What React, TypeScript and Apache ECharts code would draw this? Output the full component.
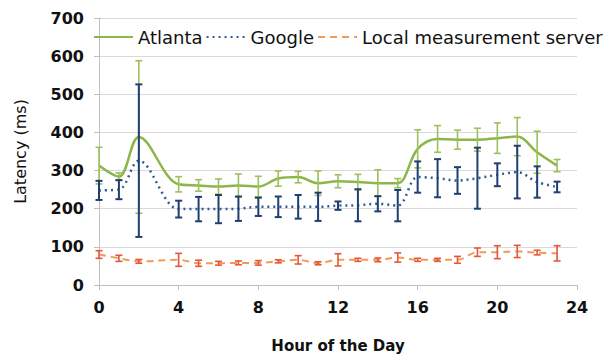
import React, { useEffect, useRef } from "react";
import * as echarts from "echarts";

const hours = [0, 1, 2, 4, 5, 6, 7, 8, 9, 10, 11, 12, 13, 14, 15, 16, 17, 18, 19, 20, 21, 22, 23];
const atlanta = [313, 284, 388, 264, 261, 258, 261, 258, 279, 283, 267, 272, 270, 267, 267, 357, 383, 381, 381, 385, 389, 348, 313];
const atlantaErr = [48, 10, 200, 20, 15, 20, 30, 27, 20, 15, 32, 17, 20, 35, 12, 50, 35, 25, 30, 40, 50, 55, 16];
const google = [248, 250, 326, 199, 199, 199, 200, 205, 205, 205, 205, 208, 209, 213, 208, 283, 280, 274, 280, 289, 296, 270, 257];
const googleErr = [25, 25, 200, 22, 32, 37, 32, 24, 27, 31, 37, 11, 42, 20, 41, 41, 50, 35, 80, 30, 69, 41, 14];
const local = [80, 70, 62, 66, 57, 57, 58, 58, 62, 66, 57, 66, 66, 66, 72, 66, 66, 66, 86, 86, 88, 85, 83];
const localErr = [10, 8, 5, 17, 8, 5, 5, 6, 4, 11, 4, 16, 4, 5, 12, 4, 4, 9, 11, 17, 16, 6, 20];
const xTicks = [0, 4, 8, 12, 16, 20, 24];
const yTicks = [0, 100, 200, 300, 400, 500, 600, 700];

const FONT = "'DejaVu Sans', sans-serif";

function errSeries(name: string, vals: number[], errs: number[], color: string, w: number, cap: number, z: number) {
  return {
    type: "custom",
    name,
    z,
    data: hours.map((h, i) => [h, vals[i] - errs[i], vals[i] + errs[i]]),
    encode: { x: 0, y: [1, 2] },
    renderItem: (params: any, api: any) => {
      const x = api.value(0);
      const top = api.coord([x, api.value(2)]);
      const bot = api.coord([x, api.value(1)]);
      const st = { stroke: color, lineWidth: w };
      return {
        type: "group",
        children: [
          { type: "line", shape: { x1: top[0], y1: top[1], x2: bot[0], y2: bot[1] }, style: st },
          { type: "line", shape: { x1: top[0] - cap, y1: top[1], x2: top[0] + cap, y2: top[1] }, style: st },
          { type: "line", shape: { x1: bot[0] - cap, y1: bot[1], x2: bot[0] + cap, y2: bot[1] }, style: st },
        ],
      };
    },
  };
}

export default function App() {
  const ref = useRef<HTMLDivElement>(null);
  useEffect(() => {
    const chart = echarts.init(ref.current!, null, { renderer: "svg" });
    chart.setOption({
      animation: false,
      backgroundColor: "#ffffff",
      grid: { left: 99, right: 29, top: 18, bottom: 71 },
      legend: {
        data: ["Atlanta", "Google", "Local measurement server"],
        left: 93,
        top: 28,
        width: 513,
        padding: 0,
        itemWidth: 39,
        itemHeight: 12,
        itemGap: 3,
        itemStyle: { opacity: 0 },
        textStyle: { fontFamily: FONT, fontSize: 18, color: "#111" },
      },
      xAxis: {
        type: "value",
        min: 0,
        max: 24,
        interval: 4,
        name: "Hour of the Day",
        nameLocation: "middle",
        nameGap: 53,
        nameTextStyle: { fontFamily: FONT, fontSize: 15, fontWeight: "bold", color: "#111" },
        axisLine: { show: true, lineStyle: { color: "#bfbfbf", width: 1 } },
        axisTick: { show: true, length: 5, lineStyle: { color: "#bfbfbf" } },
        axisLabel: {
          fontFamily: FONT, fontSize: 16, fontWeight: "bold", color: "#111", margin: 14,
          formatter: (v: number) => (xTicks.includes(v) ? String(v) : ""),
        },
        splitLine: { show: false },
      },
      yAxis: {
        type: "value",
        min: 0,
        max: 700,
        interval: 100,
        name: "Latency (ms)",
        nameLocation: "middle",
        nameGap: 71,
        nameTextStyle: { fontFamily: FONT, fontSize: 16, color: "#111" },
        axisLine: { show: true, lineStyle: { color: "#bfbfbf", width: 1 } },
        axisTick: { show: true, length: 5, lineStyle: { color: "#bfbfbf" } },
        axisLabel: {
          fontFamily: FONT, fontSize: 16, fontWeight: "bold", color: "#111", margin: 15,
          formatter: (v: number) => (yTicks.includes(v) ? String(v) : ""),
        },
        splitLine: { show: true, lineStyle: { color: "#d9d9d9", width: 1 } },
      },
      series: [
        {
          type: "line", name: "Atlanta", smooth: 0.35, symbol: "none", z: 2,
          data: hours.map((h, i) => [h, atlanta[i]]),
          lineStyle: { color: "#8db54a", width: 2.5 }, itemStyle: { color: "#8db54a" },
        },
        errSeries("atlantaErr", atlanta, atlantaErr, "#9cc05c", 1.6, 3.5, 3),
        {
          type: "line", name: "Google", smooth: 0.35, symbol: "none", z: 4,
          data: hours.map((h, i) => [h, google[i]]),
          lineStyle: { color: "#2f5c96", width: 2.5, type: [2, 4] }, itemStyle: { color: "#2f5c96" },
        },
        errSeries("googleErr", google, googleErr, "#1f3f70", 2, 3.5, 5),
        {
          type: "line", name: "Local measurement server", smooth: 0.35, symbol: "none", z: 6,
          data: hours.map((h, i) => [h, local[i]]),
          lineStyle: { color: "#f29a55", width: 2, type: [7, 5] }, itemStyle: { color: "#f29a55" },
        },
        errSeries("localErr", local, localErr, "#e4583a", 1.6, 3.5, 7),
      ],
    });
    return () => chart.dispose();
  }, []);
  return <div ref={ref} style={{ position: "fixed", left: 0, top: 0, width: 606, height: 358 }} />;
}
